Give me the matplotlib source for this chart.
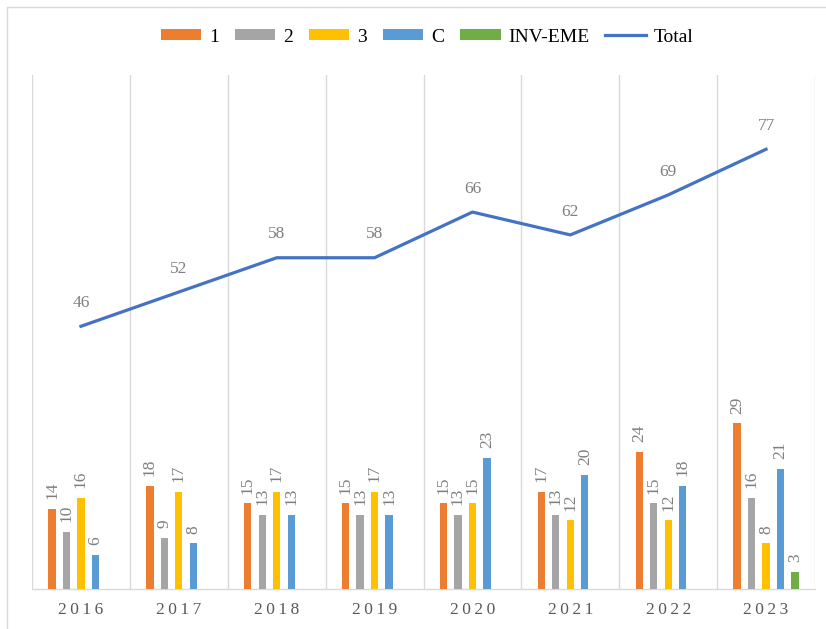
import matplotlib
matplotlib.use("Agg")
import matplotlib.pyplot as plt
from matplotlib.patches import Rectangle
import numpy as np

plt.rcParams["font.family"] = ["Liberation Serif", "DejaVu Serif"]

# data
years = ["2016", "2017", "2018", "2019", "2020", "2021", "2022", "2023"]
series_names = ["1", "2", "3", "C", "INV-EME"]
s1 = [14, 18, 15, 15, 15, 17, 24, 29]
s2 = [10, 9, 13, 13, 13, 13, 15, 16]
s3 = [16, 17, 17, 17, 15, 12, 12, 8]
sC = [6, 8, 13, 13, 23, 20, 18, 21]
sInv = [0, 0, 0, 0, 0, 0, 0, 3]
total = [46, 52, 58, 58, 66, 62, 69, 77]

colors = ["#ED7D31", "#A5A5A5", "#FFC000", "#5B9BD5", "#70AD47"]
line_color = "#4472C4"
label_color = "#7F7F7F"

W, H = 826, 629
fig = plt.figure(figsize=(W / 100, H / 100), dpi=100)
ax = fig.add_axes([32 / W, 1 - 589 / H, (815 - 32) / W, (589 - 75) / H])

# chart border
fig.patches.append(Rectangle((7 / W, -0.05), 1.0, 1 - 7 / H + 0.05,
                             transform=fig.transFigure, fill=False,
                             edgecolor="#D9D9D9", linewidth=1.0))

x = np.arange(len(years))
slot = 0.148
bw = 0.075
all_series = [s1, s2, s3, sC, sInv]
for i, (name, vals, c) in enumerate(zip(series_names, all_series, colors)):
    xs = x + (i - 2) * slot
    ax.bar(xs, vals, width=bw, color=c, label=name, zorder=3)
    for xi, v in zip(xs, vals):
        if v == 0:
            continue
        ax.annotate(str(v), (xi, v), xytext=(0, 7), textcoords="offset points",
                    ha="center", va="bottom", rotation=90, fontsize=12.5,
                    color=label_color)

ax.plot(x, total, color=line_color, linewidth=2.3, label="Total", zorder=4)
for xi, v in zip(x, total):
    ax.annotate(str(v), (xi, v), xytext=(0, 11), textcoords="offset points",
                ha="center", va="bottom", fontsize=12.5, color=label_color)

ax.set_xlim(-0.5, len(years) - 0.5)
ax.set_ylim(0, 90)
ax.set_yticks([])
ax.set_xticks(x)
ax.set_xticklabels(["\u2009".join(y) for y in years], fontsize=12.5,
                   color="#595959")
ax.tick_params(axis="x", length=0, pad=9)
ax.set_xticks(np.arange(-0.5, len(years)), minor=True)
ax.tick_params(axis="x", which="minor", length=0)
ax.grid(True, axis="x", which="minor", color="#D9D9D9", linewidth=1.0, zorder=0)
for side in ["top", "right", "left"]:
    ax.spines[side].set_visible(False)
ax.spines["bottom"].set_color("#D9D9D9")
ax.spines["bottom"].set_linewidth(1.0)

handles, labels = ax.get_legend_handles_labels()
order = [labels.index(n) for n in series_names + ["Total"]]
fig.legend([handles[k] for k in order], [labels[k] for k in order],
           loc="center", bbox_to_anchor=(427 / W, 1 - 37 / H), ncol=6,
           frameon=False, fontsize=14, handlelength=2.1, handleheight=0.55,
           handletextpad=0.4, columnspacing=0.8)

fig.savefig("out.png", dpi=100)
